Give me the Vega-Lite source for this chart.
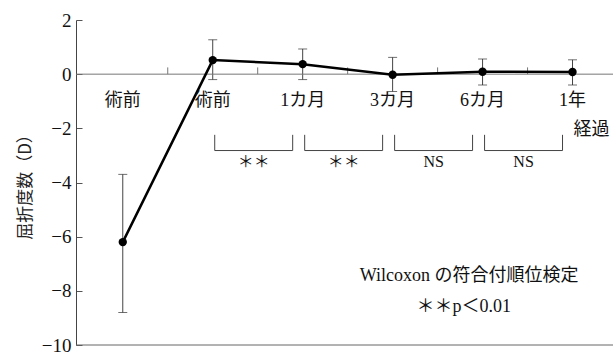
{
  "$schema": "https://vega.github.io/schema/vega-lite/v6.json",
  "width": 537,
  "height": 325,
  "autosize": {"type": "none"},
  "padding": {"left": 76, "top": 20, "right": 0, "bottom": 9},
  "background": "white",
  "config": {
    "view": {"stroke": null},
    "font": "Liberation Serif, Noto Sans CJK JP",
    "text": {"font": "Liberation Serif, Noto Sans CJK JP", "color": "#111"}
  },
  "datasets": {
    "series": [
      {"idx": 0, "period": "術前", "mean": -6.2, "lo": -8.8, "hi": -3.7},
      {"idx": 1, "period": "術前", "mean": 0.52, "lo": -0.2, "hi": 1.27},
      {"idx": 2, "period": "1カ月", "mean": 0.37, "lo": -0.2, "hi": 0.93},
      {"idx": 3, "period": "3カ月", "mean": -0.02, "lo": -0.64, "hi": 0.62},
      {"idx": 4, "period": "6カ月", "mean": 0.09, "lo": -0.4, "hi": 0.56},
      {"idx": 5, "period": "1年", "mean": 0.08, "lo": -0.4, "hi": 0.53}
    ],
    "boundaries": [{"b": 0.5}, {"b": 1.5}, {"b": 2.5}, {"b": 3.5}, {"b": 4.5}],
    "tests": [
      {"from": 1, "to": 2, "result": "＊＊"},
      {"from": 2, "to": 3, "result": "＊＊"},
      {"from": 3, "to": 4, "result": "NS"},
      {"from": 4, "to": 5, "result": "NS"}
    ],
    "single": [{}]
  },
  "layer": [
    {
      "data": {"name": "series"},
      "mark": {"type": "rule", "color": "#444", "strokeWidth": 1},
      "encoding": {
        "x": {"field": "idx", "type": "quantitative", "scale": {"domain": [-0.52, 5.45], "nice": false, "zero": false}, "axis": null},
        "y": {
          "field": "lo",
          "type": "quantitative",
          "scale": {"domain": [-10, 2], "nice": false, "zero": false},
          "axis": {
            "values": [-10, -8, -6, -4, -2, 0, 2],
            "grid": false,
            "tickSize": -6,
            "labelPadding": 11,
            "domainColor": "#444",
            "tickColor": "#555",
            "labelFont": "Liberation Serif",
            "labelFontSize": 19,
            "labelColor": "#111",
            "title": "屈折度数（D）",
            "titleFont": "Noto Sans CJK JP",
            "titleFontSize": 17,
            "titleFontWeight": "normal",
            "titleColor": "#222",
            "titlePadding": 7
          }
        },
        "y2": {"field": "hi"}
      }
    },
    {
      "data": {"name": "series"},
      "mark": {"type": "tick", "orient": "horizontal", "size": 9, "thickness": 1, "color": "#333"},
      "encoding": {
        "x": {"field": "idx", "type": "quantitative"},
        "y": {"field": "lo", "type": "quantitative"}
      }
    },
    {
      "data": {"name": "series"},
      "mark": {"type": "tick", "orient": "horizontal", "size": 9, "thickness": 1, "color": "#333"},
      "encoding": {
        "x": {"field": "idx", "type": "quantitative"},
        "y": {"field": "hi", "type": "quantitative"}
      }
    },
    {
      "data": {"name": "single"},
      "mark": {"type": "rule", "color": "#777", "strokeWidth": 1},
      "encoding": {"y": {"datum": 0}}
    },
    {
      "data": {"name": "single"},
      "mark": {"type": "rule", "color": "#666", "strokeWidth": 1},
      "encoding": {"y": {"datum": -10}}
    },
    {
      "data": {"name": "boundaries"},
      "mark": {"type": "rule", "color": "#777", "strokeWidth": 1},
      "encoding": {
        "x": {"field": "b", "type": "quantitative"},
        "y": {"datum": 0},
        "y2": {"datum": 0.25}
      }
    },
    {
      "data": {"name": "series"},
      "mark": {"type": "line", "color": "#000", "strokeWidth": 2.5},
      "encoding": {
        "x": {"field": "idx", "type": "quantitative"},
        "y": {"field": "mean", "type": "quantitative"}
      }
    },
    {
      "data": {"name": "series"},
      "mark": {"type": "circle", "color": "#000", "opacity": 1, "size": 70},
      "encoding": {
        "x": {"field": "idx", "type": "quantitative"},
        "y": {"field": "mean", "type": "quantitative"}
      }
    },
    {
      "data": {"name": "series"},
      "mark": {"type": "text", "fontSize": 18, "baseline": "middle", "align": "center"},
      "encoding": {
        "x": {"field": "idx", "type": "quantitative"},
        "y": {"datum": -1},
        "text": {"field": "period"}
      }
    },
    {
      "data": {"name": "single"},
      "mark": {"type": "text", "fontSize": 18, "baseline": "middle", "align": "center", "text": "経過"},
      "encoding": {"x": {"datum": 5.21}, "y": {"datum": -2.05}}
    },
    {
      "data": {"name": "tests"},
      "mark": {"type": "rule", "color": "#444", "strokeWidth": 1, "xOffset": 2, "x2Offset": -10},
      "encoding": {
        "x": {"field": "from", "type": "quantitative"},
        "x2": {"field": "to"},
        "y": {"datum": -2.82}
      }
    },
    {
      "data": {"name": "tests"},
      "mark": {"type": "rule", "color": "#444", "strokeWidth": 1, "xOffset": 2},
      "encoding": {
        "x": {"field": "from", "type": "quantitative"},
        "y": {"datum": -2.24},
        "y2": {"datum": -2.82}
      }
    },
    {
      "data": {"name": "tests"},
      "mark": {"type": "rule", "color": "#444", "strokeWidth": 1, "xOffset": -10},
      "encoding": {
        "x": {"field": "to", "type": "quantitative"},
        "y": {"datum": -2.24},
        "y2": {"datum": -2.82}
      }
    },
    {
      "data": {"name": "tests"},
      "mark": {"type": "text", "fontSize": 16, "baseline": "middle", "align": "center", "xOffset": 41},
      "encoding": {
        "x": {"field": "from", "type": "quantitative"},
        "y": {"datum": -3.25},
        "text": {"field": "result"}
      }
    },
    {
      "data": {"name": "single"},
      "mark": {"type": "text", "fontSize": 18, "baseline": "middle", "align": "center", "text": "Wilcoxon の符合付順位検定"},
      "encoding": {"x": {"datum": 3.85}, "y": {"datum": -7.47}}
    },
    {
      "data": {"name": "single"},
      "mark": {"type": "text", "fontSize": 18, "baseline": "middle", "align": "center", "text": "＊＊p＜0.01"},
      "encoding": {"x": {"datum": 3.79}, "y": {"datum": -8.58}}
    }
  ]
}
